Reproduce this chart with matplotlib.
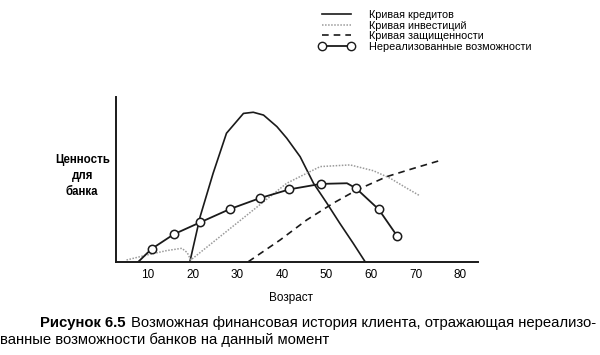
import matplotlib
matplotlib.use('Agg')
import matplotlib.pyplot as plt
from matplotlib.lines import Line2D
from matplotlib.legend_handler import HandlerLine2D

# значения (возраст, условная ценность 0..100)
credit_age = [19.4, 21.7, 24.6, 27.6, 31.4, 33.6, 35.9, 38.9, 41.1, 44.1, 47.1, 50.1, 53.0, 56.0, 58.7]
credit_val = [0.2, 27.5, 53.7, 78, 90, 90.7, 89, 82, 75, 63.8, 47.7, 35.6, 23.4, 11.3, 0]

invest_age = [5.2, 9.7, 14.2, 17.6, 18.8, 19.6, 41.1, 44.8, 48.6, 55.3, 60.5, 64.3, 68.0, 71.0]
invest_val = [1.2, 4.2, 6.9, 8.3, 5.7, 1.2, 47.7, 52.7, 57.8, 58.8, 55.3, 50.7, 44.7, 40]

secure_age = [32.5, 39.6, 45.6, 51.5, 56.8, 63.5, 69.5, 75.1]
secure_val = [0.2, 13.3, 25.5, 35.6, 43.6, 51.7, 56.7, 61.2]

missed_age = [7.8, 10.8, 15.8, 21.7, 28.4, 35.0, 41.7, 48.7, 54.6, 56.6, 61.7, 65.8]
missed_val = [0, 7.9, 16.8, 24, 32.1, 38.6, 44, 47.3, 47.7, 44.7, 31.9, 15.9]
missed_marks = [1, 2, 3, 4, 5, 6, 7, 9, 10, 11]  # точки с кружками

ticks = [10, 20, 30, 40, 50, 60, 70, 80]
labels = ['Кривая кредитов', 'Кривая инвестиций', 'Кривая защищенности',
          'Нереализованные возможности']

plt.rcParams['font.family'] = ['Liberation Sans', 'DejaVu Sans']

fig = plt.figure(figsize=(6, 3.55), dpi=100)
ax = fig.add_axes([0.193, 0.262, 0.604, 0.465])

ax.plot(credit_age, credit_val, color='#1a1a1a', lw=1.2)
ax.plot(invest_age, invest_val, color='#9a9a9a', lw=1.1, ls=(0, (1, 1)))
ax.plot(secure_age, secure_val, color='#1a1a1a', lw=1.2, ls=(0, (4, 3)))
ax.plot(missed_age, missed_val, color='#1a1a1a', lw=1.3)
ax.plot([missed_age[i] for i in missed_marks], [missed_val[i] for i in missed_marks],
        ls='none', marker='o', ms=6, mfc='white', mec='#1a1a1a', mew=1.1)

ax.set_xlim(2.8, 84)
ax.set_ylim(0, 100)
ax.set_xticks(ticks)
ax.set_xticklabels([str(t) for t in ticks], fontsize=8.5)
ax.set_yticks([])
ax.tick_params(axis='x', length=0, pad=5)
for s in ['top', 'right']:
    ax.spines[s].set_visible(False)
for s in ['left', 'bottom']:
    ax.spines[s].set_linewidth(1.4)
    ax.spines[s].set_color('#1a1a1a')

fig.text(0.137, 0.504, 'Ценность\nдля\nбанка', ha='center', va='center',
         fontsize=8.3, linespacing=1.4, fontweight='bold')
fig.text(0.485, 0.16, 'Возраст', ha='center', va='center', fontsize=8.5)

handles = [
    Line2D([], [], color='#1a1a1a', lw=1.2),
    Line2D([], [], color='#9a9a9a', lw=1.1, ls=(0, (1, 1))),
    Line2D([], [], color='#1a1a1a', lw=1.2, ls=(0, (4, 3))),
    Line2D([], [], color='#1a1a1a', lw=1.3, marker='o', ms=6, mfc='white', mec='#1a1a1a'),
]
fig.legend(handles, labels, loc='upper left', bbox_to_anchor=(0.506, 0.99),
           frameon=False, fontsize=7.8, handlelength=4.9, labelspacing=0.05,
           handletextpad=0.5, numpoints=2, borderaxespad=0.2,
           handler_map={Line2D: HandlerLine2D(marker_pad=1.1)})

# подпись к рисунку
t1 = fig.text(0.067, 0.09, 'Рисунок 6.5', fontsize=10.7, fontweight='bold', va='center')
fig.canvas.draw()
bb = t1.get_window_extent().transformed(fig.transFigure.inverted())
fig.text(bb.x1 + 0.008, 0.09,
         'Возможная финансовая история клиента, отражающая нереализо-',
         fontsize=10.7, va='center')
fig.text(0.0, 0.042, 'ванные возможности банков на данный момент', fontsize=10.7, va='center')

fig.savefig('out.png', dpi=100)
